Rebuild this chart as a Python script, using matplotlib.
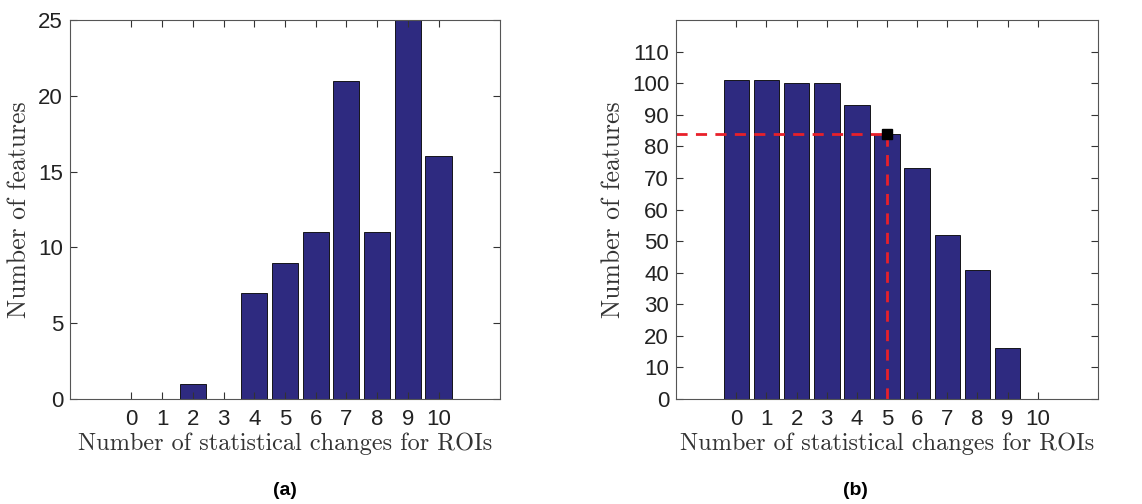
import matplotlib
matplotlib.use('Agg')
import matplotlib.pyplot as plt

changes = list(range(11))
features_a = [0, 0, 1, 0, 7, 9, 11, 21, 11, 25, 16]
features_b = [101, 101, 100, 100, 93, 84, 73, 52, 41, 16, 0]
cut_x = 5
cut_y = 84

bar_color = '#2e2a80'
xlabel = 'Number of statistical changes for ROIs'
ylabel = 'Number of features'

fig = plt.figure(figsize=(11.42, 5.04), dpi=100)
ax1 = fig.add_axes([0.0613, 0.2083, 0.3765, 0.752])
ax2 = fig.add_axes([0.592, 0.2083, 0.3695, 0.752])


def style(ax, yticks, ylim):
    ax.set_xlim(-2, 12)
    ax.set_ylim(*ylim)
    ax.set_xticks(changes)
    ax.set_yticks(yticks)
    ax.tick_params(direction='in', top=True, right=True, length=5,
                   labelsize=16, colors='#333333', width=0.8)
    ax.tick_params(axis='x', pad=7)
    ax.tick_params(axis='y', pad=5)
    for lab in ax.get_xticklabels() + ax.get_yticklabels():
        lab.set_fontfamily('Liberation Sans')
        lab.set_color('#222222')
    for s in ax.spines.values():
        s.set_color('#555555')
        s.set_linewidth(0.8)
    ax.set_xlabel(xlabel, fontfamily='cmr10', fontsize=17.5, color='#333333', labelpad=2)
    ax.set_ylabel(ylabel, fontfamily='cmr10', fontsize=18.5, color='#333333', labelpad=5)


ax1.bar(changes, features_a, width=0.85, color=bar_color, edgecolor='black', linewidth=0.6)
style(ax1, range(0, 26, 5), (0, 25))

ax2.bar(changes, features_b, width=0.85, color=bar_color, edgecolor='black', linewidth=0.6)
ax2.plot([-2, cut_x], [cut_y, cut_y], '--', color='#e8202a', lw=2, dashes=(4, 3))
ax2.plot([cut_x, cut_x], [0, cut_y], '--', color='#e8202a', lw=2, dashes=(4, 3))
ax2.plot(cut_x, cut_y, 's', color='black', markersize=7)
style(ax2, range(0, 111, 10), (0, 120))

fig.text(0.2495, 0.018, '(a)', fontsize=14, fontweight='bold', fontfamily='Liberation Sans', ha='center')
fig.text(0.749, 0.018, '(b)', fontsize=14, fontweight='bold', fontfamily='Liberation Sans', ha='center')

plt.savefig('out.png', dpi=100)
